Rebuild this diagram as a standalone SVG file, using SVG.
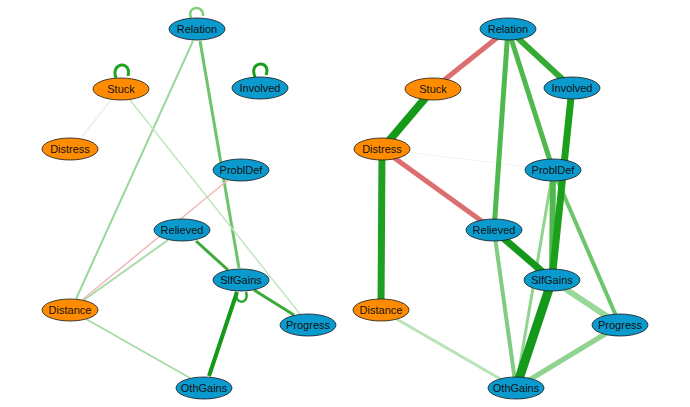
<svg xmlns="http://www.w3.org/2000/svg" width="690" height="407" viewBox="0 0 690 407">
<style>
.b{fill:#0a9acd;stroke:#1a1a1a;stroke-width:0.8}
.o{fill:#ff8c00;stroke:#1a1a1a;stroke-width:0.8}
text{font-family:"Liberation Sans",Arial,sans-serif;font-size:11px;fill:#111;text-anchor:middle;dominant-baseline:central}
path,line{fill:none}
</style>
<defs>
<marker id="a" viewBox="0 0 10 10" refX="9" refY="5" markerWidth="4" markerHeight="4" orient="auto" markerUnits="strokeWidth"><path d="M0,0 L10,5 L0,10 z" fill="context-stroke"/></marker>
</defs>
<rect width="690" height="407" fill="#fff"/>
<g id="edges" stroke-linecap="butt">
<!-- left -->
<path d="M191,18 C186,6 204,4 203,16" stroke="#7fcf7f" stroke-width="2.5" marker-end="url(#a)"/>
<path d="M116,78 C110,62 132,60 128,76" stroke="#23a323" stroke-width="3" marker-end="url(#a)"/>
<path d="M255,77 C248,60 272,60 266,75" stroke="#1a9e1a" stroke-width="3" marker-end="url(#a)"/>
<path d="M236,292 C234,306 250,304 246,292" stroke="#30a830" stroke-width="2.5"/>
<line x1="110" y1="101" x2="82" y2="137" stroke="#e6f4e6" stroke-width="1.5" marker-end="url(#a)"/>
<line x1="76" y1="299" x2="193" y2="41" stroke="#9ad89a" stroke-width="2" marker-end="url(#a)"/>
<line x1="239" y1="268" x2="200" y2="41" stroke="#6cc46c" stroke-width="3" marker-end="url(#a)"/>
<line x1="300" y1="314" x2="130" y2="100" stroke="#bfe6bf" stroke-width="1.5" marker-end="url(#a)"/>
<line x1="228" y1="180" x2="82" y2="300" stroke="#f0b8b8" stroke-width="1.5" marker-end="url(#a)"/>
<line x1="84" y1="300" x2="168" y2="240" stroke="#a8dca8" stroke-width="2" marker-end="url(#a)"/>
<line x1="228" y1="270" x2="196" y2="241" stroke="#3aab3a" stroke-width="3" marker-end="url(#a)"/>
<line x1="254" y1="290" x2="294" y2="315" stroke="#3aab3a" stroke-width="3" marker-end="url(#a)"/>
<line x1="237" y1="292" x2="209" y2="376" stroke="#14991a" stroke-width="4" marker-end="url(#a)"/>
<line x1="86" y1="319" x2="190" y2="378" stroke="#a8dca8" stroke-width="2" marker-end="url(#a)"/>
<!-- right -->
<line x1="382" y1="149" x2="553" y2="170" stroke="#fbeeee" stroke-width="1"/>
<line x1="508" y1="29" x2="433" y2="89" stroke="#db6e6e" stroke-width="5"/>
<line x1="508" y1="29" x2="494" y2="230" stroke="#4fb94f" stroke-width="5"/>
<line x1="508" y1="29" x2="553" y2="170" stroke="#4fb94f" stroke-width="5"/>
<line x1="508" y1="29" x2="572" y2="88" stroke="#34a934" stroke-width="6"/>
<line x1="433" y1="89" x2="382" y2="149" stroke="#14991a" stroke-width="8"/>
<line x1="382" y1="149" x2="381" y2="310" stroke="#1f9f1f" stroke-width="7"/>
<line x1="382" y1="149" x2="494" y2="230" stroke="#db6e6e" stroke-width="5"/>
<line x1="494" y1="230" x2="516" y2="388" stroke="#80cc80" stroke-width="4"/>
<line x1="553" y1="170" x2="516" y2="388" stroke="#90d490" stroke-width="3"/>
<line x1="553" y1="170" x2="552" y2="280" stroke="#4fb94f" stroke-width="6"/>
<line x1="553" y1="170" x2="620" y2="325" stroke="#6cc46c" stroke-width="4"/>
<line x1="552" y1="280" x2="620" y2="325" stroke="#9ad89a" stroke-width="6"/>
<line x1="620" y1="325" x2="516" y2="388" stroke="#90d490" stroke-width="5"/>
<line x1="381" y1="310" x2="516" y2="388" stroke="#b8e4b8" stroke-width="3"/>
<line x1="494" y1="230" x2="552" y2="280" stroke="#14991a" stroke-width="7"/>
<line x1="572" y1="88" x2="552" y2="280" stroke="#1aa01a" stroke-width="7"/>
<line x1="552" y1="280" x2="516" y2="388" stroke="#14991a" stroke-width="9"/>
</g>
<g id="L-Relation"><ellipse class="b" cx="197" cy="29" rx="28" ry="11"/><text x="197" y="29">Relation</text></g>
<g id="L-Stuck"><ellipse class="o" cx="121" cy="89" rx="28" ry="11"/><text x="121" y="89">Stuck</text></g>
<g id="L-Involved"><ellipse class="b" cx="260" cy="88" rx="28" ry="11"/><text x="260" y="88">Involved</text></g>
<g id="L-Distress"><ellipse class="o" cx="70" cy="149" rx="28" ry="11"/><text x="70" y="149">Distress</text></g>
<g id="L-ProblDef"><ellipse class="b" cx="241" cy="170" rx="28" ry="11"/><text x="241" y="170">ProblDef</text></g>
<g id="L-Relieved"><ellipse class="b" cx="182" cy="230" rx="28" ry="11"/><text x="182" y="230">Relieved</text></g>
<g id="L-SlfGains"><ellipse class="b" cx="241" cy="280" rx="28" ry="11"/><text x="241" y="280">SlfGains</text></g>
<g id="L-Distance"><ellipse class="o" cx="70" cy="310" rx="28" ry="11"/><text x="70" y="310">Distance</text></g>
<g id="L-Progress"><ellipse class="b" cx="308" cy="325" rx="28" ry="11"/><text x="308" y="325">Progress</text></g>
<g id="L-OthGains"><ellipse class="b" cx="204" cy="388" rx="28" ry="11"/><text x="204" y="388">OthGains</text></g>
<g id="R-Relation"><ellipse class="b" cx="508" cy="29" rx="28" ry="11"/><text x="508" y="29">Relation</text></g>
<g id="R-Stuck"><ellipse class="o" cx="433" cy="89" rx="28" ry="11"/><text x="433" y="89">Stuck</text></g>
<g id="R-Involved"><ellipse class="b" cx="572" cy="88" rx="28" ry="11"/><text x="572" y="88">Involved</text></g>
<g id="R-Distress"><ellipse class="o" cx="382" cy="149" rx="28" ry="11"/><text x="382" y="149">Distress</text></g>
<g id="R-ProblDef"><ellipse class="b" cx="553" cy="170" rx="28" ry="11"/><text x="553" y="170">ProblDef</text></g>
<g id="R-Relieved"><ellipse class="b" cx="494" cy="230" rx="28" ry="11"/><text x="494" y="230">Relieved</text></g>
<g id="R-SlfGains"><ellipse class="b" cx="552" cy="280" rx="28" ry="11"/><text x="552" y="280">SlfGains</text></g>
<g id="R-Distance"><ellipse class="o" cx="381" cy="310" rx="28" ry="11"/><text x="381" y="310">Distance</text></g>
<g id="R-Progress"><ellipse class="b" cx="620" cy="325" rx="28" ry="11"/><text x="620" y="325">Progress</text></g>
<g id="R-OthGains"><ellipse class="b" cx="516" cy="388" rx="28" ry="11"/><text x="516" y="388">OthGains</text></g>
</svg>
